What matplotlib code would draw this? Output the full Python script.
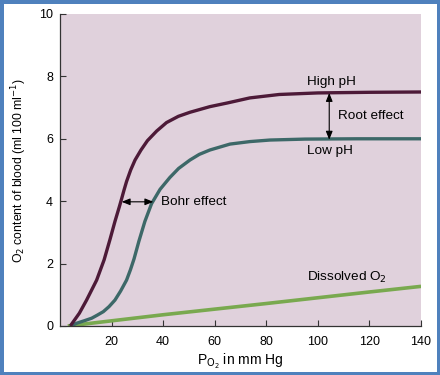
import matplotlib
matplotlib.use("Agg")
import matplotlib.pyplot as plt

plt.rcParams['font.family'] = ['Liberation Sans', 'DejaVu Sans']

# O2 content curves (x = P_O2 in mm Hg, y = ml/100 ml)
high_x = [4, 4.5, 7.5, 10.3, 14.2, 17.1, 19.4, 21.3, 23.0, 23.9, 24.8, 25.8, 27.4, 29.1,
          31.4, 33.9, 37.5, 41.3, 45.9, 50.4, 58.1, 65, 73.6, 85, 100, 120, 140]
high_y = [0, 0.06, 0.41, 0.83, 1.47, 2.12, 2.78, 3.35, 3.82, 4.08, 4.35, 4.63, 5.0, 5.32,
          5.64, 5.94, 6.25, 6.52, 6.72, 6.85, 7.03, 7.15, 7.31, 7.42, 7.47, 7.49, 7.5]

low_x = [4, 6.5, 9.5, 12.3, 14.5, 16.8, 19, 21.3, 23.5, 25.8, 27.3, 28.7, 30.6, 32.9,
         35.5, 38.8, 42.6, 46, 50.4, 54, 58.1, 65.9, 73.6, 81.4, 95, 115, 140]
low_y = [0, 0.09, 0.17, 0.25, 0.35, 0.46, 0.62, 0.83, 1.12, 1.47, 1.8, 2.15, 2.72, 3.35,
         3.92, 4.38, 4.76, 5.05, 5.32, 5.5, 5.64, 5.83, 5.91, 5.96, 5.99, 6.0, 6.0]

diss_x = [3, 40, 80, 120, 140]
diss_y = [0, 0.36, 0.72, 1.09, 1.27]

xticks = [20, 40, 60, 80, 100, 120, 140]
yticks = [0, 2, 4, 6, 8, 10]

fig = plt.figure(figsize=(4.4, 3.75), dpi=100, linewidth=5, edgecolor='#4f81bd')
ax = fig.add_axes([0.1364, 0.1307, 0.8205, 0.832])
ax.set_facecolor('#e0d1dc')

ax.plot(diss_x, diss_y, color='#79a94f', lw=2.6, solid_capstyle='butt')
ax.plot(low_x, low_y, color='#3d6868', lw=2.4, solid_capstyle='butt', solid_joinstyle='round')
ax.plot(high_x, high_y, color='#4d1a38', lw=2.4, solid_capstyle='butt', solid_joinstyle='round')

ax.set_xlim(0, 140)
ax.set_ylim(0, 10)
ax.set_xticks(xticks)
ax.set_yticks(yticks)
for s in ['top', 'right']:
    ax.spines[s].set_visible(False)
for s in ['left', 'bottom']:
    ax.spines[s].set_color('#333333')
    ax.spines[s].set_linewidth(0.9)
ax.tick_params(axis='both', direction='in', length=4, width=0.8, color='#333333',
               labelsize=9)
ax.tick_params(axis='x', pad=7)
ax.tick_params(axis='y', pad=5)

ax.set_ylabel('O$_2$ content of blood (ml 100 ml$^{-1}$)', fontsize=8.8, labelpad=7)
ax.set_xlabel('P$_{\\mathrm{O_2}}$ in mm Hg', fontsize=10, labelpad=3)

# arrows
arr = dict(arrowstyle='<|-|>,head_length=0.5,head_width=0.2', color='black', lw=0.8,
           shrinkA=0, shrinkB=0)
ax.annotate('', xy=(23.9, 3.98), xytext=(36.2, 3.98), arrowprops=arr)
ax.annotate('', xy=(104.4, 7.47), xytext=(104.4, 5.97), arrowprops=arr)

fs = 9.7
ax.text(39.2, 3.98, 'Bohr effect', fontsize=fs, va='center', ha='left')
ax.text(107.9, 6.74, 'Root effect', fontsize=fs, va='center', ha='left')
ax.text(95.6, 7.83, 'High pH', fontsize=fs, va='center', ha='left')
ax.text(95.6, 5.62, 'Low pH', fontsize=fs, va='center', ha='left')
ax.text(95.6, 1.54, 'Dissolved O$_2$', fontsize=fs, va='center', ha='left')

fig.savefig('out.png', dpi=100)
